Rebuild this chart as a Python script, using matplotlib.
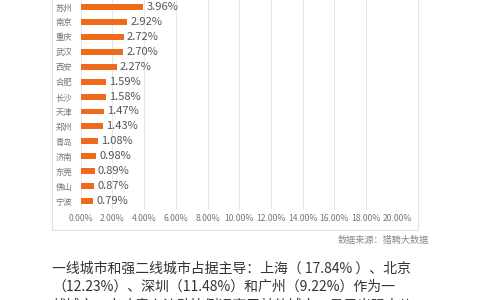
import matplotlib
matplotlib.use("Agg")
import matplotlib.pyplot as plt
from matplotlib.patches import Rectangle

plt.rcParams['font.family'] = ['Noto Sans CJK SC', 'DejaVu Sans']

# data (top of the chart is cropped in the reference; only visible rows)
cities = ['苏州', '南京', '重庆', '武汉', '西安', '合肥', '长沙', '天津',
          '郑州', '青岛', '济南', '东莞', '佛山', '宁波']
shares = [3.96, 2.92, 2.72, 2.70, 2.27, 1.59, 1.58, 1.47,
          1.43, 1.08, 0.98, 0.89, 0.87, 0.79]
xticks = [0, 2, 4, 6, 8, 10, 12, 14, 16, 18, 20]

source = '数据来源：猎聘大数据'
body_lines = ['一线城市和强二线城市占据主导：上海（ 17.84% ）、北京',
              '（12.23%）、深圳（11.48%）和广州（9.22%）作为一',
              '线城市，人才意向流动比例远高于其他城市，显示出强大的']

BAR = '#EF6B1B'
W, H = 480, 300

fig = plt.figure(figsize=(4.8, 3.0), dpi=100)
fig.patch.set_facecolor('white')

# light frame around the chart card
fig.patches.append(Rectangle((52 / W, 1 - 230 / H), (418 - 52) / W, 0.9,
                             transform=fig.transFigure, fill=False,
                             edgecolor='#e2e2e2', linewidth=0.8))

ax = fig.add_axes([80.7 / W, 1 - 210 / H, (397.7 - 80.7) / W, 210 / H])
n = len(cities)
ypos = list(range(n - 1, -1, -1))
ax.barh(ypos, shares, height=0.4, color=BAR, zorder=3)
for y, v in zip(ypos, shares):
    ax.text(v + 0.2, y, f'{v:.2f}%', va='center', ha='left',
            fontsize=8, color='#555555')

ax.set_xlim(0, 20)
ax.set_ylim(-0.6, n - 1 + 0.47)
ax.set_xticks(xticks)
ax.set_xticklabels([f'{t:.2f}%' for t in xticks], fontsize=6.2, color='#777777')
ax.set_yticks(ypos)
ax.set_yticklabels(cities, fontsize=6, color='#777777')
ax.tick_params(axis='both', length=0)
ax.tick_params(axis='x', pad=3)
ax.tick_params(axis='y', pad=6)
ax.grid(axis='x', color='#e8e8e8', linewidth=0.7, zorder=0)
ax.grid(axis='y', visible=False)
for s in ax.spines.values():
    s.set_visible(False)

fig.text(429 / W, 1 - 241 / H, source, ha='right', va='center',
         fontsize=6.6, color='#888888')

for i, line in enumerate(body_lines):
    fig.text(52 / W, 1 - (269 + 18 * i) / H, line, ha='left', va='center',
             fontsize=10, color='#333333')

fig.savefig('out.png', dpi=100, facecolor='white')
